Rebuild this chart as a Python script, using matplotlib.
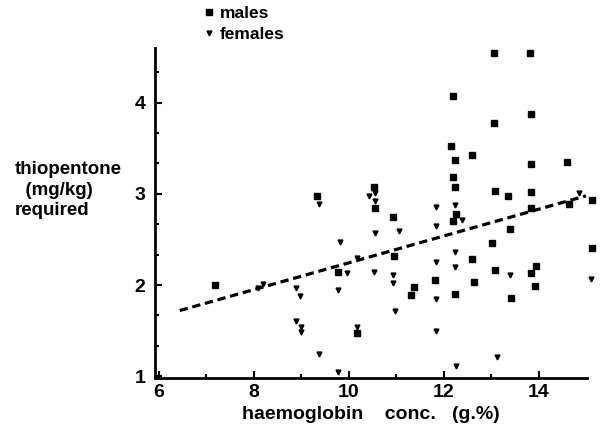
import numpy as np
import matplotlib
matplotlib.use("Agg")
import matplotlib.pyplot as plt

plt.rcParams['font.family'] = ['Liberation Sans', 'DejaVu Sans']
plt.rcParams['font.weight'] = 'bold'

# males: haemoglobin (g%) vs thiopentone (mg/kg)
males_hb = [7.19, 9.33, 9.77, 10.17, 10.54, 10.56, 10.94, 10.96, 11.31, 11.37,
            11.81, 12.15, 12.2, 12.2, 12.23, 12.25, 12.27, 12.19, 12.25, 12.6,
            12.6, 12.65, 13.02, 13.06, 13.06, 13.08, 13.08, 13.35, 13.4, 13.42,
            13.81, 13.85, 13.85, 13.85, 13.85, 13.85, 13.92, 13.94, 14.6, 14.65,
            15.12, 15.12]
males_dose = [2.00, 2.98, 2.14, 1.47, 3.08, 2.85, 2.75, 2.32, 1.89, 1.98,
              2.05, 3.52, 4.07, 3.18, 3.07, 3.37, 2.78, 2.70, 1.90, 3.43,
              2.29, 2.03, 2.46, 4.54, 3.78, 3.03, 2.17, 2.98, 2.61, 1.86,
              4.54, 3.88, 3.33, 3.02, 2.85, 2.13, 1.99, 2.21, 3.35, 2.89,
              2.93, 2.41]

# females
females_hb = [8.1, 8.2, 8.88, 8.98, 8.88, 9.0, 9.0, 9.38, 9.77, 9.37,
              9.77, 9.81, 9.96, 10.17, 10.17, 10.42, 10.56, 10.56, 10.56, 10.54,
              10.94, 10.94, 10.98, 11.06, 11.83, 11.85, 11.83, 11.85, 11.85, 12.23,
              12.25, 12.25, 12.38, 12.27, 13.13, 13.4, 14.85, 15.1]
females_dose = [1.97, 2.01, 1.97, 1.88, 1.61, 1.54, 1.48, 1.24, 1.05, 2.89,
                1.95, 2.47, 2.13, 2.30, 1.54, 2.98, 3.01, 2.92, 2.57, 2.14,
                2.11, 2.02, 1.72, 2.59, 2.86, 2.65, 2.25, 1.85, 1.50, 2.36,
                2.88, 2.20, 2.71, 1.11, 1.21, 2.11, 3.01, 2.07]

# regression line
line_slope = 0.147
line_intercept = 0.773
line_range = [6.44, 15.0]

fig = plt.figure(figsize=(6.02, 4.32), dpi=100)
ax = fig.add_axes([0.2575, 0.125, 0.7175, 0.764])

ax.plot(males_hb, males_dose, 's', color='black', ms=4.7, clip_on=False,
        label='males')
ax.plot(females_hb, females_dose, 'v', color='black', ms=3.5, clip_on=False,
        label='females')

lx = np.array(line_range)
ax.plot(lx, line_intercept + line_slope * lx, color='black', lw=2.3,
        dashes=(2.6, 1.5), clip_on=False)

ax.set_xlim(5.92, 15.02)
ax.set_ylim(0.98, 4.6)
ax.spines['top'].set_visible(False)
ax.spines['right'].set_visible(False)
ax.spines['left'].set_linewidth(2)
ax.spines['bottom'].set_linewidth(2)

ax.set_xticks([6, 8, 10, 12, 14])
ax.set_xticks([7, 9, 11, 13], minor=True)
ax.set_yticks([1, 2, 3, 4])
ax.set_yticks([4/3, 5/3, 7/3, 8/3, 10/3, 11/3, 13/3], minor=True)
ax.tick_params(which='both', direction='in', width=1.5, labelsize=14)
ax.tick_params(axis='x', pad=4)
ax.tick_params(axis='y', pad=7)
ax.tick_params(which='major', length=5)
ax.tick_params(which='minor', length=3)
for t in ax.get_xticklabels() + ax.get_yticklabels():
    t.set_fontweight('bold')

ax.set_xlabel('haemoglobin    conc.   (g.%)', fontsize=14, fontweight='bold',
              labelpad=4)
fig.text(0.025, 0.56, 'thiopentone\n  (mg/kg)\nrequired', fontsize=13.5,
         fontweight='bold', ha='left', va='center', linespacing=1.25)

ax.legend(loc='upper left', bbox_to_anchor=(0.322, 1.01),
          bbox_transform=fig.transFigure, frameon=False,
          handlelength=0.6, handletextpad=0.3, labelspacing=0.3,
          borderpad=0.1, prop={'weight': 'bold', 'size': 12.5})

fig.savefig('out.png', dpi=100)
